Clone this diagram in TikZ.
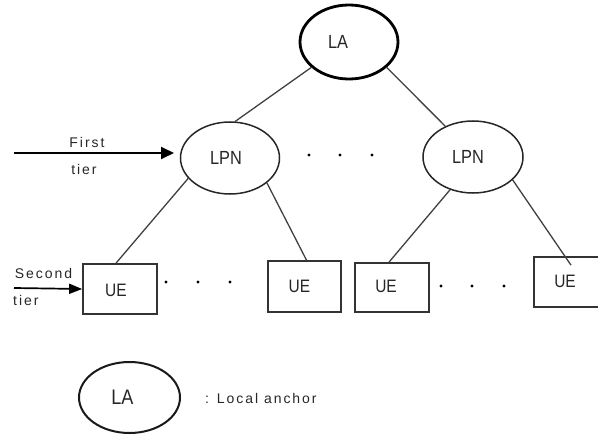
\documentclass[tikz,border=0pt]{standalone}
\usepackage{fontspec}
\setmainfont{Liberation Sans}
\newfontfamily\spacedfont[LetterSpace=14]{Liberation Sans}
\newfontfamily\condfont[FakeStretch=0.86]{Liberation Sans}
\usetikzlibrary{arrows.meta,shapes.geometric}
\begin{document}
\begin{tikzpicture}[x=1pt,y=-1pt,
  edge/.style={draw=black!75, line width=1.3pt},
  ellnode/.style={ellipse, draw=black!85, line width=1.5pt, minimum width=99pt, minimum height=72pt, inner sep=0pt},
  uebox/.style={rectangle, draw=black!80, line width=1.7pt, minimum width=74pt, minimum height=50pt, inner sep=0pt},
  txt/.style={text=black!85, inner sep=0pt},
  bigtxt/.style={txt, font=\condfont\fontsize{19}{22}\selectfont},
  uetxt/.style={txt, font=\condfont\fontsize{18}{21}\selectfont},
  smalltxt/.style={txt, font=\spacedfont\fontsize{14}{17}\selectfont},
  tierarrow/.style={draw=black, line width=1.9pt, -{Triangle[length=13pt,width=12pt]}},
  dot/.style={fill=black}
]
\useasboundingbox (0,0) rectangle (598,436);
\clip (0,0) rectangle (598,436);

% top level
\node[ellnode, line width=2.8pt, draw=black, minimum width=98pt, minimum height=74pt,
      label={[bigtxt, font=\condfont\fontsize{19}{22}\selectfont, xshift=-11pt]center:LA}] (LA) at (349,42) {};

% first tier
\node[ellnode, label={[bigtxt, xshift=-4pt]center:LPN}] (LPNL) at (230,158) {};
\node[ellnode, minimum width=100pt, label={[bigtxt, xshift=-5pt]center:LPN}] (LPNR) at (473,157) {};

% second tier
\node[uebox, label={[uetxt, xshift=-4pt, yshift=-1pt]center:UE}] (UE1) at (120,289) {};
\node[uebox, minimum width=73pt, minimum height=51pt, label={[uetxt, xshift=-5pt]center:UE}] (UE2) at (304.5,286.5) {};
\node[uebox, minimum height=49pt, label={[uetxt, xshift=-6pt, yshift=1pt]center:UE}] (UE3) at (392,287.5) {};
\node[uebox, label={[uetxt, xshift=-6pt, yshift=1pt]center:UE}] (UE4) at (571,282) {};

% connectors
\draw[edge] (LA.214) -- (LPNL.82);
\draw[edge] (LA.326) -- (LPNR.132);
\draw[edge] (LPNL.206) -- ([xshift=-4pt]UE1.north);
\draw[edge] (LPNL.326) -- ([xshift=2pt]UE2.north);
\draw[edge] (LPNR.235) -- ([xshift=-3pt]UE3.north);
\draw[edge] (LPNR.330) -- ([yshift=-9pt]UE4.north);

% dots
\foreach \x in {309,340,372} \fill[dot] (\x,155) circle (1.7pt);
\foreach \x in {166,198,230} \fill[dot] (\x,282) circle (1.7pt);
\foreach \x in {441,472,504} \fill[dot] (\x,286) circle (1.7pt);

% tier labels and arrows
\coordinate (ftS) at (14,153);
\coordinate (ftE) at (174,153);
\draw[tierarrow] (ftS) -- (ftE);
\node[smalltxt] (first) at (87,142) {First};
\node[smalltxt] (tier1) at (84,169) {tier};

\coordinate (stS) at (14,288);
\draw[tierarrow, line width=1.7pt, -{Triangle[length=13pt,width=10pt]}] (stS) -- (UE1.west);
\node[smalltxt] (second) at (43.5,273) {Second};
\node[smalltxt, anchor=west] (tier2) at (13,300) {tier};

% legend
\node[ellnode, line width=2pt, draw=black!90, minimum width=101pt, minimum height=71pt,
      label={[bigtxt, font=\condfont\fontsize{21}{24}\selectfont, xshift=-7pt]center:LA}] (legLA) at (129.5,397.5) {};
\node[smalltxt, anchor=west] (legtxt) at (205,398) {: Local anchor};
\end{tikzpicture}
\end{document}
